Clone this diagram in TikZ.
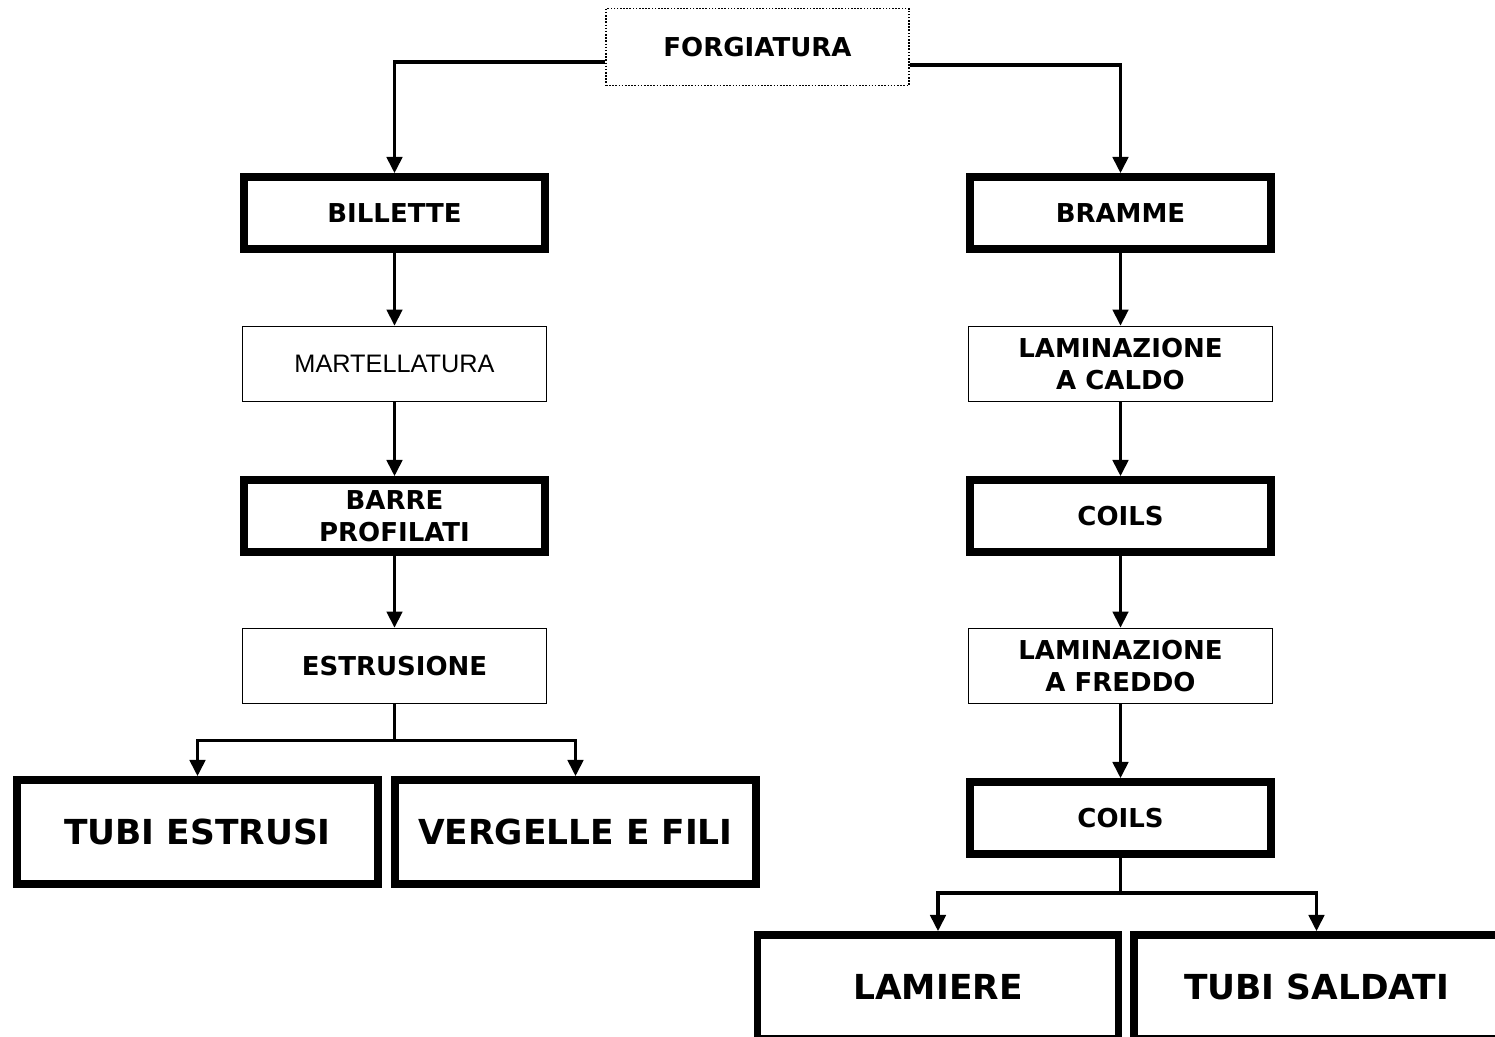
\documentclass[tikz,border=0pt]{standalone}
\usepackage{fontspec}
\setmainfont{DejaVu Sans}
\newfontfamily\arialfont{Liberation Sans}
\usetikzlibrary{arrows.meta}
\tikzset{
  >={Triangle[width=4.4pt,length=4.6pt]},
  conn/.style = {line width=0.95pt},
  boldbox/.style = {draw, line width=2.2pt, minimum width=3.01cm, minimum height=0.72cm,
    inner sep=0pt, align=center, font=\fontsize{7.4}{9.1}\selectfont\bfseries},
  plainbox/.style = {draw, line width=0.45pt, minimum width=3.04cm, minimum height=0.75cm,
    inner sep=0pt, align=center, font=\fontsize{7.4}{9.1}\selectfont\bfseries},
  bigbox/.style = {boldbox, minimum width=3.61cm, minimum height=1.04cm,
    font=\fontsize{9.8}{12}\selectfont\bfseries},
  topbox/.style = {plainbox, dash pattern=on 0.45pt off 0.45pt, minimum width=3.03cm, minimum height=0.77cm}
}

\begin{document}
\begin{tikzpicture}
  \useasboundingbox (0,0) rectangle (14.95,-10.36);
  \node[topbox] (forg) at (7.575,-0.47) {FORGIATURA};
  % left column
  \node[boldbox]  (bill)  at (3.945,-2.13) {BILLETTE};
  \node[plainbox, font=\fontsize{7.2}{9}\selectfont\arialfont] (mart) at (3.945,-3.64) {MARTELLATURA};
  \node[boldbox]  (barre) at (3.945,-5.16) {BARRE\\PROFILATI};
  \node[plainbox] (estr)  at (3.945,-6.66) {ESTRUSIONE};
  \node[bigbox]   (tubie) at (1.975,-8.32) {TUBI ESTRUSI};
  \node[bigbox]   (verg)  at (5.755,-8.32) {VERGELLE E FILI};
  % right column
  \node[boldbox]  (bram)   at (11.205,-2.13) {BRAMME};
  \node[plainbox] (lcal)   at (11.205,-3.64) {LAMINAZIONE\\A CALDO};
  \node[boldbox]  (coils)  at (11.205,-5.16) {COILS};
  \node[plainbox] (lfred)  at (11.205,-6.66) {LAMINAZIONE\\A FREDDO};
  \node[boldbox]  (coilsb) at (11.205,-8.18) {COILS};
  \node[bigbox]   (lam)    at (9.38,-9.87) {LAMIERE};
  \node[bigbox, minimum width=3.65cm] (tubis) at (13.165,-9.87) {TUBI SALDATI};
  % arrows
  \draw[conn,->] ([yshift=-0.15cm]forg.west) -| (bill.north);
  \draw[conn,->] ([yshift=-0.18cm]forg.east) -| (bram.north);
  \draw[conn,->] (bill) -- (mart);
  \draw[conn,->] (mart) -- (barre);
  \draw[conn,->] (barre) -- (estr);
  \draw[conn,->] (bram) -- (lcal);
  \draw[conn,->] (lcal) -- (coils);
  \draw[conn,->] (coils) -- (lfred);
  \draw[conn,->] (lfred) -- (coilsb);
  % branches
  \coordinate (sl) at ([yshift=-0.36cm]estr.south);
  \draw[conn] (estr.south) -- (sl);
  \draw[conn,->] (sl) -| (tubie.north);
  \draw[conn,->] (sl) -| (verg.north);
  \coordinate (sr) at ([yshift=-0.35cm]coilsb.south);
  \draw[conn] (coilsb.south) -- (sr);
  \draw[conn,->] (sr) -| (lam.north);
  \draw[conn,->] (sr) -| (tubis.north);
\end{tikzpicture}
\end{document}
